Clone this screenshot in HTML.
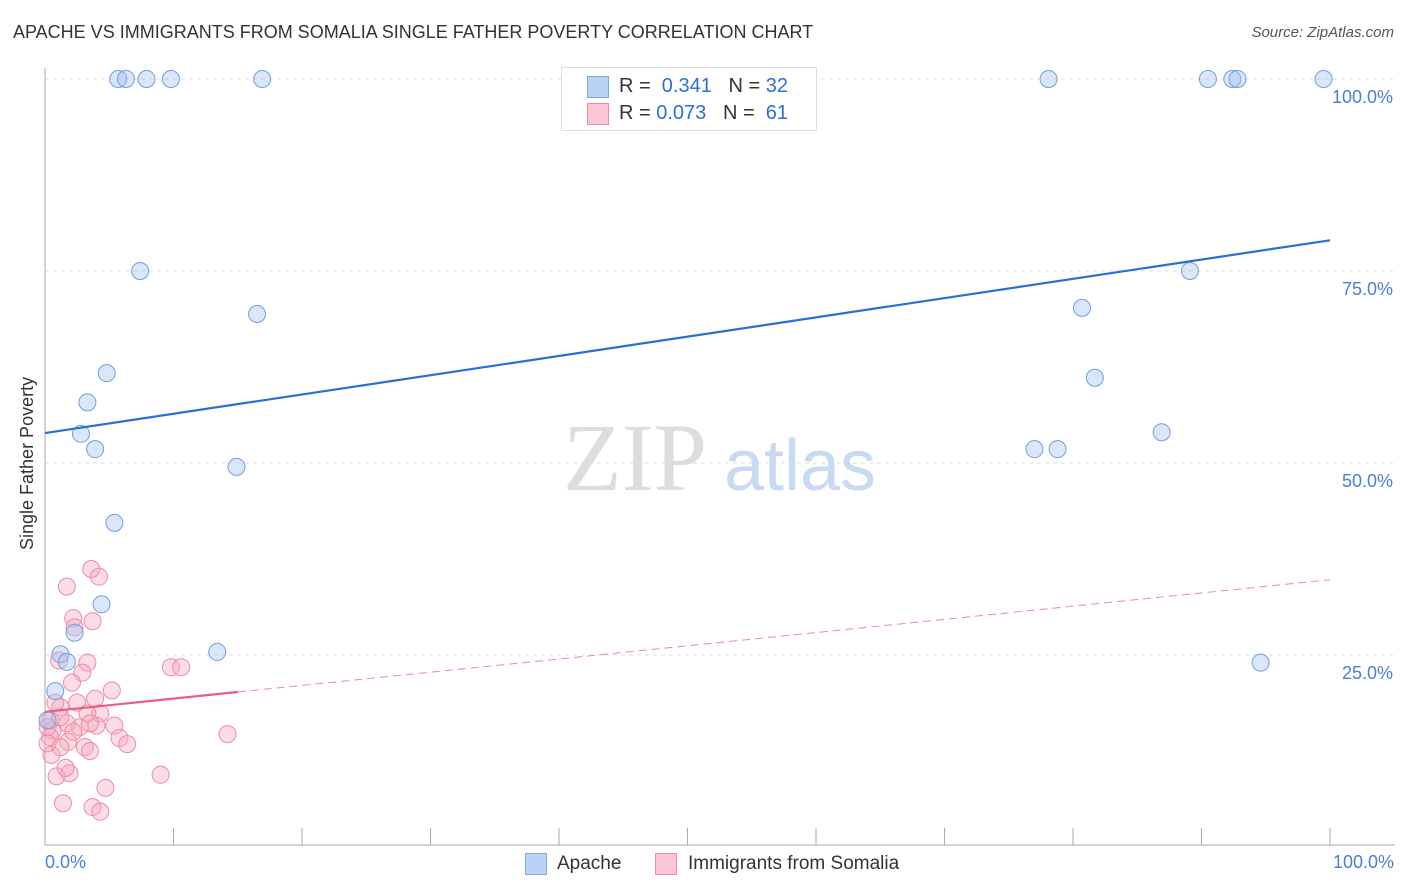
<!DOCTYPE html>
<html><head><meta charset="utf-8"><style>
body{margin:0;background:#fff;font-family:"Liberation Sans",sans-serif;}
#wrap{position:relative;width:1406px;height:892px;overflow:hidden}
.t{position:absolute;white-space:nowrap}
</style></head><body>
<div id="wrap">
<div class="t" style="left:13px;top:22px;font-size:18px;color:#333">APACHE VS IMMIGRANTS FROM SOMALIA SINGLE FATHER POVERTY CORRELATION CHART</div>
<div class="t" style="right:12px;top:24px;font-size:15px;color:#555;font-style:italic">Source: ZipAtlas.com</div>
<svg id="svg" width="1406" height="892" style="position:absolute;left:0;top:0"></svg>
</div>
<script>
const blueX=[5.7,6.3,7.9,9.8,16.9,78.1,90.5,92.4,92.8,99.5,7.4,89.1,16.5,80.7,4.8,81.7,3.3,2.8,3.9,77.0,78.8,86.9,14.9,5.4,4.4,2.3,1.2,1.7,13.4,94.6,0.8,0.2];
const blueY=[100,100,100,100,100,100,100,100,100,100,75.0,75.0,69.4,70.2,61.7,61.1,57.9,53.8,51.8,51.8,51.8,54.0,49.5,42.2,31.6,27.9,25.1,24.1,25.4,24.0,20.3,16.5];
const pinkX=[3.6,4.2,1.7,2.2,3.7,2.3,1.1,3.3,2.9,9.8,10.6,2.1,5.2,3.9,2.5,1.2,4.3,3.3,0.4,5.4,2.7,4.0,1.7,0.6,5.8,6.4,3.1,3.5,1.8,0.4,0.5,14.2,0.9,1.9,1.6,9.0,4.7,1.4,3.7,4.3,0.2,0.2,1.2,2.2,3.5,1.2,0.8];
const pinkY=[36.2,35.2,33.9,29.8,29.4,28.6,24.3,24.0,22.7,23.4,23.4,21.4,20.4,19.3,18.8,18.2,17.4,17.4,16.5,15.8,15.6,15.8,16.1,15.2,14.2,13.4,13.0,12.5,13.7,14.3,12.0,14.7,9.2,9.6,10.3,9.4,7.7,5.7,5.2,4.6,15.6,13.5,13.0,15.0,16.1,16.9,18.8];
const blueTrend=[53.9,79.0];
const pinkTrend=[17.6,34.8];
const pinkSolidEnd=15;
const yTicks=[25,50,75,100];
const yTickLabels=["25.0%","50.0%","75.0%","100.0%"];
const xTicks=[0,10,20,30,40,50,60,70,80,90,100];

const X=v=>45+v*12.85, Y=v=>847-v*7.68;
const svg=document.getElementById('svg');
function mk(tag,attrs,name){const e=document.createElementNS('http://www.w3.org/2000/svg',tag);for(const k in attrs)e.setAttribute(k,attrs[k]);


svg.appendChild(e);return e;}
yTicks.forEach((v,i)=>{
 mk('line',{x1:45,x2:1395,y1:Y(v),y2:Y(v),stroke:'#ddd','stroke-dasharray':'4,4'},'gridline');
 const t=mk('text',{x:1393,y:Y(v)+24,'text-anchor':'end','font-size':18,fill:'#4a7fd4'},'y-tick-label');t.textContent=yTickLabels[i];
});
mk('line',{x1:45,x2:45,y1:68,y2:845,stroke:'#aaa'},'y-axis');
mk('line',{x1:45,x2:1395,y1:845,y2:845,stroke:'#aaa'},'x-axis');
xTicks.forEach(v=>mk('line',{x1:X(v),x2:X(v),y1:828,y2:845,stroke:'#aaa'},'x-tick'));
let w=mk('text',{x:635,y:490,'text-anchor':'middle','font-size':96,fill:'#ddd','font-family':'Liberation Serif'},'watermark-zip');w.textContent='ZIP';
w=mk('text',{x:800,y:490,'text-anchor':'middle','font-size':72,fill:'#c8d9f2'},'watermark-atlas');w.textContent='atlas';
pinkX.forEach((x,i)=>mk('circle',{cx:X(x),cy:Y(pinkY[i]),r:8.5,fill:'rgba(247,167,190,0.4)',stroke:'#ee8aa8','stroke-width':1},'somalia-point'));
blueX.forEach((x,i)=>mk('circle',{cx:X(x),cy:Y(blueY[i]),r:8.5,fill:'rgba(160,196,240,0.4)',stroke:'#6f9fe0','stroke-width':1},'apache-point'));
mk('line',{x1:X(0),y1:Y(blueTrend[0]),x2:X(100),y2:Y(blueTrend[1]),stroke:'#2a6fd6','stroke-width':2.2},'apache-trend-line');
const py=v=>pinkTrend[0]+(pinkTrend[1]-pinkTrend[0])*v/100;
mk('line',{x1:X(0),y1:Y(py(0)),x2:X(pinkSolidEnd),y2:Y(py(pinkSolidEnd)),stroke:'#e85d8a','stroke-width':2.2},'somalia-trend-line');
mk('line',{x1:X(pinkSolidEnd),y1:Y(py(pinkSolidEnd)),x2:X(100),y2:Y(py(100)),stroke:'#e88aa8','stroke-width':1,'stroke-dasharray':'8,5'},'somalia-trend-extension');
</script>
<div class="t" style="left:17px;top:550px;transform:rotate(-90deg);transform-origin:0 0;font-size:18px;color:#333">Single Father Poverty</div>
<div class="t" style="left:45px;top:852px;font-size:18px;color:#4a7fd4">0.0%</div>
<div class="t" style="right:12px;top:852px;font-size:18px;color:#4a7fd4">100.0%</div>
<div style="position:absolute;left:561px;top:67px;width:254px;height:62px;border:1px solid #ddd;background:#fff;font-size:20px">
 <div style="position:absolute;left:25px;top:8px;width:20px;height:20px;background:#b9d3f5;border:1px solid #7aa6e4"></div>
 <div class="t" style="left:57px;top:7px;color:#333">R = <span style="color:#2a6fd6">&nbsp;0.341</span>&nbsp;&nbsp;&nbsp;N = <span style="color:#2a6fd6">32</span></div>
 <div style="position:absolute;left:25px;top:35px;width:20px;height:20px;background:#f9c6d5;border:1px solid #ee8aa8"></div>
 <div class="t" style="left:57px;top:34px;color:#333">R = <span style="color:#2a6fd6">0.073</span>&nbsp;&nbsp;&nbsp;N = <span style="color:#2a6fd6">&nbsp;61</span></div>
</div>
<div style="position:absolute;left:525px;top:853px;width:20px;height:20px;background:#b9d3f5;border:1px solid #7aa6e4"></div>
<div class="t" style="left:557px;top:853px;font-size:19px;color:#333">Apache</div>
<div style="position:absolute;left:655px;top:853px;width:20px;height:20px;background:#f9c6d5;border:1px solid #ee8aa8"></div>
<div class="t" style="left:688px;top:853px;font-size:19px;color:#333">Immigrants from Somalia</div>
</body></html>
